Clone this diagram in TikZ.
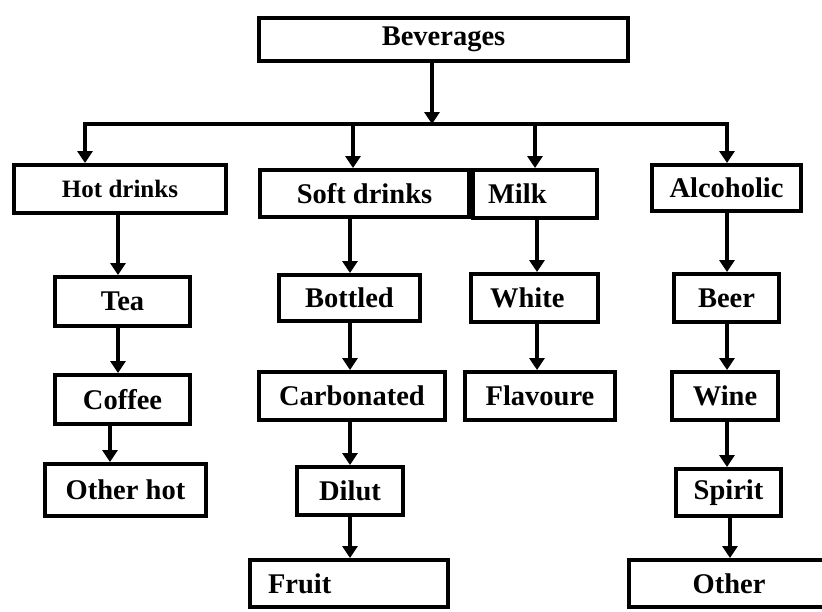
\documentclass[tikz,border=0pt]{standalone}
\usepackage{fontspec}
\setmainfont{Liberation Serif}
\usetikzlibrary{shapes, arrows.meta, positioning}
\tikzstyle{box}  = [draw, rectangle, line width=4pt, inner sep=0pt, font=\fontsize{28.5}{32}\selectfont\bfseries]
\tikzstyle{arr}  = [draw, line width=4.5pt, -{Triangle[width=15pt, length=12pt]}]
\tikzstyle{both} = [draw, line width=4.5pt, miter limit=4, {Triangle[width=15pt, length=12pt]}-{Triangle[width=15pt, length=12pt]}]

\begin{document}
\begin{tikzpicture}[x=1pt, y=-1pt]

\useasboundingbox [fill=white] (0,0) rectangle (822,611);

% nodes
\node [box, minimum width=369, minimum height=43] at (443.5,  39.5) (bev)      {Beverages};
\node [box, minimum width=212, minimum height=48, font=\fontsize{25}{28}\selectfont\bfseries]
                                                  at (120  , 189  ) (hot)      {Hot drinks};
\node [box, minimum width=209, minimum height=47] at (364.5, 193.5) (soft)     {Soft drinks};
\node [box, text width=94, inner xsep=15, align=left, minimum height=48]
                                                  at (535  , 194  ) (milk)     {Milk};
\node [box, minimum width=149, minimum height=46] at (726.5, 188  ) (alc)      {Alcoholic};

\node [box, minimum width=135, minimum height=49] at (122.5, 301.5) (tea)      {Tea};
\node [box, minimum width=135, minimum height=49] at (122.5, 399.5) (coffee)   {Coffee};
\node [box, minimum width=161, minimum height=52] at (125.5, 490  ) (otherhot) {Other hot};

\node [box, minimum width=141, minimum height=46] at (349.5, 298  ) (bottled)  {Bottled};
\node [box, minimum width=186, minimum height=48] at (352  , 396  ) (carb)     {Carbonated};
\node [box, minimum width=106, minimum height=48] at (350  , 491  ) (dilut)    {Dilut};
\node [box, text width=162, inner xsep=18, align=left, minimum height=47]
                                                  at (349  , 583.5) (fruit)    {Fruit};

\node [box, text width=89, inner xsep=19, align=left, minimum height=48]
                                                  at (534.5, 298  ) (white)    {White};
\node [box, minimum width=150, minimum height=48] at (540  , 396  ) (flav)     {Flavoure};

\node [box, minimum width=105, minimum height=48] at (726.5, 298  ) (beer)     {Beer};
\node [box, minimum width=106, minimum height=48] at (725  , 396  ) (wine)     {Wine};
\node [box, minimum width=105, minimum height=47] at (728.5, 492.5) (spirit)   {Spirit};
\node [box, minimum width=200, minimum height=47] at (729  , 583.5) (other)    {Other};

% bus and columns
\coordinate (bus)  at (432, 124);
\coordinate (busA) at (85 , 124);
\coordinate (busB) at (353, 124);
\coordinate (busC) at (535, 124);
\coordinate (busD) at (727, 124);
\coordinate (colA)  at (118, 0);
\coordinate (colA2) at (110, 0);
\coordinate (colB)  at (350, 0);
\coordinate (colC)  at (537, 0);
\coordinate (colD)  at (727, 0);
\coordinate (colD2) at (730, 0);

%  edges
\draw [arr]  (bev.south -| bus) -- (bus);
\draw [both] (hot.north -| busA) -- (busA) -- (busD) -- (alc.north -| busD);
\draw [arr]  (busB) -- (soft.north -| busB);
\draw [arr]  (busC) -- (milk.north -| busC);

\foreach \from/\to/\col in {hot/tea/colA, tea/coffee/colA, coffee/otherhot/colA2,
                            soft/bottled/colB, bottled/carb/colB, carb/dilut/colB, dilut/fruit/colB,
                            milk/white/colC, white/flav/colC,
                            alc/beer/colD, beer/wine/colD, wine/spirit/colD, spirit/other/colD2}
  \draw [arr] (\from.south -| \col) -- (\to.north -| \col);

\end{tikzpicture}
\end{document}
